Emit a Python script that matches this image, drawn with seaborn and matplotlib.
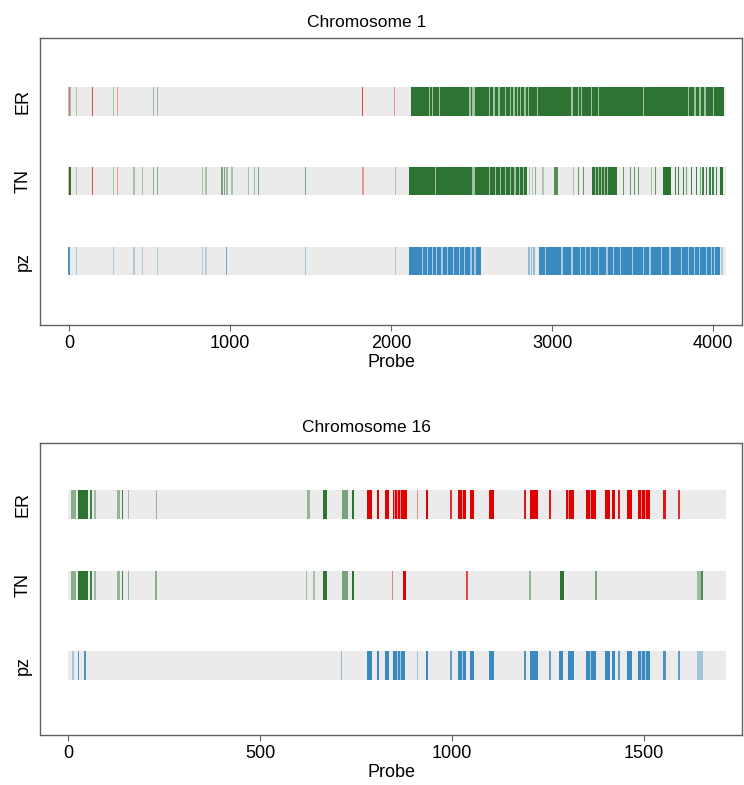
import matplotlib
matplotlib.use('Agg')
import matplotlib.pyplot as plt
import seaborn as sns

# copy-number calls along the probes, per group
rows = ['ER', 'TN', 'pz']

# (start probe, end probe, call colour, fraction of samples)
chr1_length = 4080
chr1_er = [
    (0, 0, 'red', 0.35), (6, 6, 'green', 0.35), (49, 49, 'green', 0.35), (147, 147, 'red', 0.7),
    (276, 276, 'green', 0.35), (301, 301, 'red', 0.35), (525, 525, 'green', 0.4), (550, 550, 'green', 0.4),
    (1824, 1824, 'red', 0.7), (2022, 2022, 'red', 0.4), (2125, 4065, 'green', 1.0)]
chr1_er_gaps = [2238, 2259, 2300, 2485, 2495, 2505, 2515, 2609, 2640, 2671, 2712, 2743, 2764,
                2785, 2805, 2832, 2852, 2908, 3124, 3165, 3184, 3246, 3289, 3567, 3845, 3887,
                3918, 3949, 4000]

chr1_tn = [
    (0, 0, 'red', 0.35), (8, 8, 'green', 1.0), (49, 49, 'green', 0.35), (147, 147, 'red', 0.7),
    (276, 276, 'green', 0.35), (301, 301, 'red', 0.35), (404, 404, 'green', 0.35), (456, 456, 'green', 0.35),
    (527, 527, 'green', 0.5), (552, 552, 'green', 0.5), (830, 830, 'green', 0.35), (851, 851, 'green', 0.35),
    (950, 950, 'green', 0.6), (966, 966, 'green', 0.6), (981, 981, 'green', 0.4), (1012, 1012, 'green', 0.35),
    (1114, 1114, 'green', 0.35), (1151, 1151, 'green', 0.4), (1176, 1176, 'green', 0.6), (1469, 1469, 'green', 0.6),
    (1826, 1826, 'red', 0.35), (2028, 2028, 'green', 0.35),
    (2114, 2847, 'green', 1.0),
    (2861, 2861, 'green', 0.3), (2877, 2877, 'green', 0.3), (2898, 2898, 'green', 0.5), (2943, 2943, 'green', 0.3),
    (3011, 3036, 'green', 0.8), (3134, 3134, 'green', 0.35), (3165, 3165, 'green', 0.7), (3196, 3196, 'green', 0.7),
    (3246, 3400, 'green', 1.0), (3444, 3444, 'green', 0.7), (3487, 3487, 'green', 0.7), (3512, 3512, 'green', 0.7),
    (3536, 3536, 'green', 0.7), (3617, 3617, 'green', 0.35), (3641, 3641, 'green', 0.7), (3691, 3740, 'green', 1.0),
    (3765, 3765, 'green', 0.9), (3784, 3784, 'green', 0.9), (3815, 3815, 'green', 0.9), (3833, 3833, 'green', 0.6),
    (3864, 3864, 'green', 0.9), (3895, 3895, 'green', 0.9), (3920, 3920, 'green', 0.6), (3938, 3938, 'green', 0.9),
    (3957, 3957, 'green', 0.9), (3981, 3981, 'green', 0.9), (4000, 4000, 'green', 0.9), (4019, 4019, 'green', 0.9),
    (4043, 4062, 'green', 1.0)]
chr1_tn_gaps = [2275, 2504, 2515, 2613, 2650, 2681, 2712, 2743, 2770, 2799, 2823,
                3272, 3290, 3309, 3327, 3346]

chr1_pz = [
    (2, 2, 'blue', 0.9), (49, 49, 'blue', 0.35), (276, 276, 'blue', 0.35), (404, 404, 'blue', 0.35),
    (456, 456, 'blue', 0.35), (552, 552, 'blue', 0.35), (830, 830, 'blue', 0.3), (851, 851, 'blue', 0.3),
    (977, 977, 'blue', 0.7), (1469, 1469, 'blue', 0.4), (2028, 2028, 'blue', 0.35),
    (2114, 2557, 'blue', 1.0), (2857, 2857, 'blue', 0.5), (2873, 2873, 'blue', 0.5), (2887, 2887, 'blue', 0.5),
    (2918, 4042, 'blue', 1.0), (4056, 4056, 'blue', 0.35)]
chr1_pz_gaps = [2197, 2228, 2259, 2280, 2317, 2352, 2387, 2424, 2455, 2496, 2522, 2960, 3062,
                3124, 3176, 3207, 3238, 3289, 3341, 3382, 3423, 3497, 3567, 3608, 3680, 3732,
                3804, 3845, 3886, 3917, 3958, 3989, 4010]

chr16_length = 1715
chr16_er = [
    (10, 10, 'green', 0.5), (14, 14, 'green', 0.5), (18, 18, 'green', 0.5), (27, 53, 'green', 1.0),
    (57, 62, 'green', 0.9), (70, 70, 'green', 0.4), (127, 135, 'green', 0.45), (140, 144, 'green', 0.9),
    (157, 157, 'green', 0.4), (231, 231, 'green', 0.45), (622, 630, 'green', 0.45), (664, 674, 'green', 1.0),
    (713, 730, 'green', 0.6), (739, 745, 'green', 1.0),
    (778, 791, 'red', 1.0), (804, 811, 'red', 1.0), (826, 837, 'red', 1.0), (846, 882, 'red', 1.0),
    (910, 910, 'red', 0.4), (933, 937, 'red', 1.0), (995, 1000, 'red', 0.8), (1017, 1038, 'red', 1.0),
    (1048, 1058, 'red', 1.0), (1098, 1111, 'red', 1.0), (1189, 1193, 'red', 0.9), (1204, 1225, 'red', 1.0),
    (1206, 1206, 'green', 0.6), (1254, 1258, 'red', 0.9), (1297, 1317, 'red', 1.0), (1349, 1376, 'red', 1.0),
    (1399, 1412, 'red', 1.0), (1417, 1425, 'red', 1.0), (1434, 1438, 'red', 0.9), (1456, 1469, 'red', 1.0),
    (1486, 1516, 'red', 1.0), (1551, 1557, 'red', 0.9), (1590, 1595, 'red', 0.8)]
chr16_er_gaps = [851, 858, 866, 1027, 1304, 1362, 1495, 1505]

chr16_tn = [
    (10, 10, 'green', 0.5), (14, 14, 'green', 0.5), (18, 18, 'green', 0.5), (27, 53, 'green', 1.0),
    (57, 62, 'green', 0.9), (70, 70, 'green', 0.4), (127, 135, 'green', 0.45), (140, 144, 'green', 0.9),
    (157, 157, 'green', 0.45), (229, 229, 'green', 0.5), (622, 622, 'green', 0.4), (641, 641, 'green', 0.35),
    (664, 674, 'green', 1.0), (713, 730, 'green', 0.6), (739, 745, 'green', 1.0),
    (846, 846, 'red', 0.45), (874, 880, 'red', 1.0), (1038, 1042, 'red', 0.7), (1204, 1204, 'green', 0.45),
    (1282, 1293, 'green', 1.0), (1376, 1376, 'green', 0.6), (1638, 1655, 'green', 0.4), (1652, 1652, 'green', 0.7)]
chr16_tn_gaps = []

chr16_pz = [
    (11, 16, 'blue', 0.4), (25, 29, 'blue', 0.9), (42, 46, 'blue', 0.9), (713, 713, 'blue', 0.5),
    (778, 791, 'blue', 1.0), (806, 811, 'blue', 1.0), (826, 837, 'blue', 1.0), (846, 878, 'blue', 1.0),
    (910, 910, 'blue', 0.4), (933, 937, 'blue', 1.0), (995, 1000, 'blue', 0.8), (1017, 1038, 'blue', 1.0),
    (1048, 1058, 'blue', 1.0), (1098, 1111, 'blue', 1.0), (1189, 1193, 'blue', 0.9), (1204, 1225, 'blue', 1.0),
    (1254, 1258, 'blue', 0.8), (1280, 1290, 'blue', 1.0), (1303, 1317, 'blue', 1.0), (1349, 1376, 'blue', 1.0),
    (1399, 1412, 'blue', 1.0), (1417, 1425, 'blue', 1.0), (1434, 1438, 'blue', 0.8), (1456, 1469, 'blue', 1.0),
    (1486, 1516, 'blue', 1.0), (1551, 1557, 'blue', 0.9), (1590, 1595, 'blue', 0.8), (1638, 1655, 'blue', 0.4)]
chr16_pz_gaps = [858, 866, 1027, 1362, 1495, 1505]

call_colors = {'red': '#df0000', 'green': '#2d7433', 'blue': '#3a8abf'}
band_color = '#ebebeb'
band_h = 0.36

sns.set_style('ticks')
plt.rcParams['font.family'] = ['Liberation Sans', 'DejaVu Sans']
plt.rcParams['text.color'] = 'black'
plt.rcParams['xtick.labelcolor'] = 'black'
plt.rcParams['ytick.labelcolor'] = 'black'
plt.rcParams['axes.labelcolor'] = 'black'

fig = plt.figure(figsize=(7.44, 7.85), dpi=100)
ax1 = fig.add_axes([0.0538, 0.586, 0.9435, 0.3656])
ax2 = fig.add_axes([0.0538, 0.0637, 0.9435, 0.372])


def draw_panel(ax, title, length, marks, gaps, xlim, ylim, xticks):
    sns.barplot(x=[length] * len(rows), y=rows, orient='h', color=band_color,
                width=band_h, saturation=1, linewidth=0, errorbar=None, ax=ax)
    ax.set_xlim(*xlim)
    ax.set_ylim(*ylim)
    # one pixel in data units, so single probes stay visible
    px = (xlim[1] - xlim[0]) / (ax.get_position().width * fig.get_figwidth() * fig.dpi)
    for i, row_marks in enumerate(marks):
        for s, e, c, f in sorted(row_marks, key=lambda m: m[3]):
            w = max(e - s, 1.4 * px)
            ax.broken_barh([(s - (w - (e - s)) / 2, w)], (i - band_h / 2, band_h),
                           facecolor=call_colors[c], alpha=f, linewidth=0)
        for g in gaps[i]:
            ax.broken_barh([(g - 0.6 * px, 1.2 * px)], (i - band_h / 2, band_h),
                           facecolor='white', alpha=0.55, linewidth=0)
    ax.set_xticks(xticks)
    ax.set_xlabel('Probe', fontsize=13, labelpad=2)
    ax.set_ylabel('')
    ax.set_title(title, fontsize=12.5, x=0.465, pad=8)
    ax.tick_params(axis='x', labelsize=13, length=4, width=0.8, color='#666666', pad=3)
    ax.tick_params(axis='y', length=0, pad=6)
    for lab in ax.get_yticklabels():
        lab.set_rotation(90)
        lab.set_va('center')
        lab.set_fontsize(13)
    for sp in ax.spines.values():
        sp.set_visible(True)
        sp.set_color('#606060')
        sp.set_linewidth(1.0)


draw_panel(ax1, 'Chromosome 1', chr1_length, [chr1_er, chr1_tn, chr1_pz],
           [chr1_er_gaps, chr1_tn_gaps, chr1_pz_gaps], (-179, 4179), (2.8, -0.79),
           [0, 1000, 2000, 3000, 4000])
draw_panel(ax2, 'Chromosome 16', chr16_length, [chr16_er, chr16_tn, chr16_pz],
           [chr16_er_gaps, chr16_tn_gaps, chr16_pz_gaps], (-73, 1756), (2.86, -0.77),
           [0, 500, 1000, 1500])

fig.savefig('out.png', dpi=100)
